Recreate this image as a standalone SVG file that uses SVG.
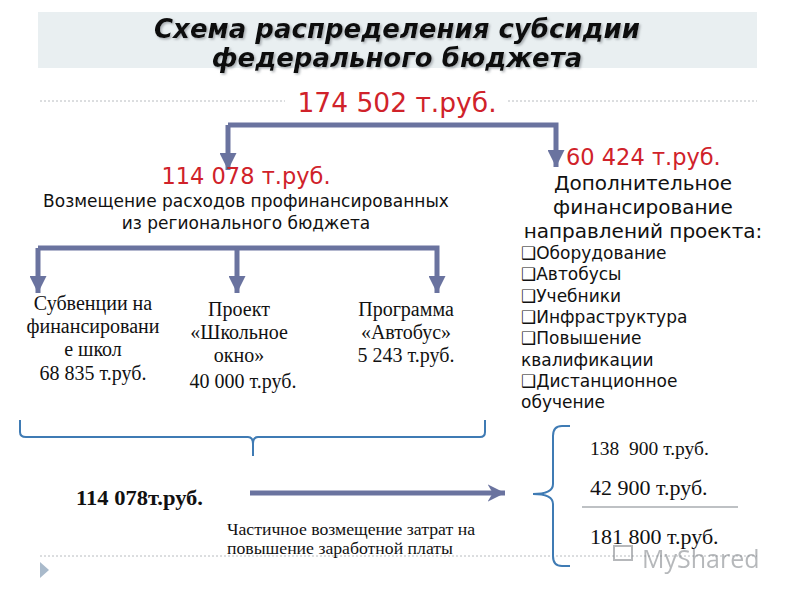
<svg xmlns="http://www.w3.org/2000/svg" width="800" height="600" viewBox="0 0 800 600">
<defs>
<style>
.title{font-family:"DejaVu Sans",Verdana,sans-serif;font-weight:bold;font-style:italic;font-size:26px;fill:#111;text-anchor:middle}
.red{font-family:"DejaVu Sans",Verdana,sans-serif;fill:#d0222a}
.sans{font-family:"DejaVu Sans",Verdana,sans-serif;fill:#111;font-size:17px}
.head{font-family:"DejaVu Sans",Verdana,sans-serif;fill:#111;font-size:20px;text-anchor:middle}
.serif{font-family:"Liberation Serif","Times New Roman",serif;fill:#111;font-size:20px;text-anchor:middle}
.num{font-family:"Liberation Serif","Times New Roman",serif;fill:#111}
.conn{fill:none;stroke:#6a739f;stroke-width:5}
.brace{fill:none;stroke:#3f7bb4;stroke-width:2}
.dots{stroke:#b8bcc0;stroke-width:1;stroke-dasharray:2 2}
</style>
<filter id="shadow" x="-5%" y="-20%" width="110%" height="140%">
<feDropShadow dx="1.5" dy="1.5" stdDeviation="1" flood-color="#8a9095" flood-opacity="0.7"/>
</filter>
<marker id="ah" viewBox="0 0 10 10" refX="10" refY="5" markerWidth="3.4" markerHeight="3.4" orient="auto" markerUnits="strokeWidth">
<path d="M0 0 L10 5 L0 10 Z" fill="#6a739f"/>
</marker>
<marker id="ahr" viewBox="0 0 10 10" refX="10" refY="5" markerWidth="3.5" markerHeight="4" orient="auto" markerUnits="strokeWidth">
<path d="M0 0 L10 5 L0 10 L3 5 Z" fill="#6a739f"/>
</marker>
</defs>
<rect width="800" height="600" fill="#ffffff"/>

<g id="title">
<rect x="38" y="12" width="719" height="56" fill="#e9eff1"/>
<g filter="url(#shadow)">
<text class="title" x="397" y="38">Схема распределения субсидии</text>
<text class="title" x="397" y="67">федерального бюджета</text>
</g>
</g>

<g id="separators">
<line class="dots" x1="40" y1="101" x2="285" y2="101"/>
<line class="dots" x1="508" y1="101" x2="757" y2="101"/>
<line class="dots" x1="40" y1="556" x2="757" y2="556"/>
<path d="M40 562 L49 570 L40 578 Z" fill="#a9bacb"/>
</g>

<g id="total">
<text class="red" x="397" y="112" font-size="26.5" text-anchor="middle">174 502 т.руб.</text>
</g>

<g id="connectors">
<path class="conn" d="M228 125 H556 V167" marker-end="url(#ah)"/>
<path class="conn" d="M228 125 V170" marker-end="url(#ah)"/>
<path class="conn" d="M38 248 H437 V293" marker-end="url(#ah)"/>
<path class="conn" d="M38 248 V293" marker-end="url(#ah)"/>
<path class="conn" d="M237 248 V293" marker-end="url(#ah)"/>
<path class="conn" d="M250 493 H505" stroke-width="4" marker-end="url(#ahr)"/>
<path class="brace" d="M20 420 V432 Q20 437 26 437 H248 Q253 437 253 444 V456 M253 444 Q253 437 258 437 H480 Q485 437 485 432 V420"/>
<path class="brace" d="M570 426 H562 Q553 426 553 436 V484 Q553 494 533 494 M533 494 Q553 494 553 504 V556 Q553 566 562 566 H570"/>
</g>

<g id="regional">
<text class="red" x="246" y="184" font-size="22.5" text-anchor="middle">114 078 т.руб.</text>
<text class="sans" x="246" y="207" text-anchor="middle" font-size="17.3">Возмещение расходов профинансированных</text>
<text class="sans" x="246" y="229" text-anchor="middle" font-size="17.3">из регионального бюджета</text>
</g>

<g id="additional">
<text class="red" x="566" y="165" font-size="22.5">60 424 т.руб.</text>
<text class="head" x="643" y="190">Дополнительное</text>
<text class="head" x="643" y="214">финансирование</text>
<text class="head" x="643" y="238">направлений проекта:</text>
<text class="sans" x="521" y="259">❑Оборудование</text>
<text class="sans" x="521" y="280">❑Автобусы</text>
<text class="sans" x="521" y="302">❑Учебники</text>
<text class="sans" x="521" y="323">❑Инфраструктура</text>
<text class="sans" x="521" y="344">❑Повышение</text>
<text class="sans" x="521" y="366">квалификации</text>
<text class="sans" x="521" y="387">❑Дистанционное</text>
<text class="sans" x="521" y="408">обучение</text>
</g>

<g id="subventions">
<text class="serif" x="93" y="310">Субвенции на</text>
<text class="serif" x="93" y="333">финансировани</text>
<text class="serif" x="93" y="356">е школ</text>
<text class="serif" x="93" y="380">68 835 т.руб.</text>
</g>

<g id="school-window">
<text class="serif" x="239" y="316">Проект</text>
<text class="serif" x="239" y="339">«Школьное</text>
<text class="serif" x="239" y="362">окно»</text>
<text class="serif" x="243" y="388">40 000 т.руб.</text>
</g>

<g id="bus">
<text class="serif" x="406" y="316">Программа</text>
<text class="serif" x="406" y="339">«Автобус»</text>
<text class="serif" x="406" y="362">5 243 т.руб.</text>
</g>

<g id="sum-left">
<text class="num" x="76" y="505" font-size="22" font-weight="bold" textLength="127" lengthAdjust="spacingAndGlyphs">114 078т.руб.</text>
<text class="num" x="227" y="535" font-size="16" textLength="248" lengthAdjust="spacingAndGlyphs">Частичное возмещение затрат на</text>
<text class="num" x="227" y="554" font-size="16" textLength="226" lengthAdjust="spacingAndGlyphs">повышение заработной платы</text>
</g>

<g id="sum-right">
<text class="num" x="590" y="455" font-size="19.5" xml:space="preserve">138  900 т.руб.</text>
<text class="num" x="590" y="495" font-size="22">42 900 т.руб.</text>
<line x1="582" y1="507" x2="738" y2="507" stroke="#a8acb0" stroke-width="1.5"/>
<text class="num" x="590" y="544" font-size="22">181 800 т.руб.</text>
</g>

<g id="watermark" opacity="0.5">
<rect x="614" y="546" width="18" height="14" fill="none" stroke="#6f7479" stroke-width="2"/>
<text x="642" y="568" font-family="'Open Sans','DejaVu Sans',sans-serif" font-size="25" fill="#6f7479">MyShared</text>
</g>
</svg>
